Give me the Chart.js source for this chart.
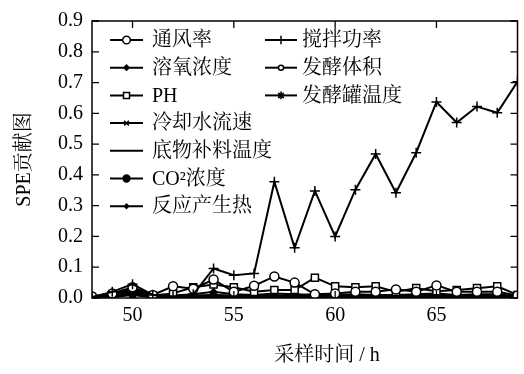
<!DOCTYPE html>
<html>
<head>
<meta charset="utf-8">
<script src="https://cdn.jsdelivr.net/npm/chart.js@4.4.0/dist/chart.umd.min.js"></script>
<style>
html, body { margin: 0; padding: 0; background: #fff; }
#wrap { width: 524px; height: 374px; }
</style>
</head>
<body>
<div id="wrap"><canvas id="speChart" width="524" height="374"></canvas></div>
<script>
// sampling time (h)
const hours = [48, 49, 50, 51, 52, 53, 54, 55, 56, 57, 58, 59, 60, 61, 62, 63, 64, 65, 66, 67, 68, 69];
const xTicks = [50, 55, 60, 65];
const yTicks = [0, 0.1, 0.2, 0.3, 0.4, 0.5, 0.6, 0.7, 0.8, 0.9];

// SPE contribution per variable
const ventRate   = [0.005, 0.015, 0.035, 0.010, 0.038, 0.030, 0.060, 0.020, 0.040, 0.070, 0.050, 0.012, 0.015, 0.020, 0.020, 0.028, 0.020, 0.041, 0.020, 0.020, 0.020, 0.008];
const dissolvedO2 = [0.002, 0.010, 0.025, 0.005, 0.008, 0.012, 0.020, 0.012, 0.010, 0.015, 0.012, 0.010, 0.010, 0.012, 0.010, 0.010, 0.012, 0.015, 0.010, 0.012, 0.012, 0.006];
const phValue    = [0.003, 0.012, 0.030, 0.008, 0.015, 0.035, 0.044, 0.035, 0.020, 0.026, 0.026, 0.066, 0.038, 0.035, 0.038, 0.020, 0.032, 0.022, 0.026, 0.032, 0.038, 0.010];
const coolFlow   = [0.002, 0.008, 0.020, 0.004, 0.006, 0.008, 0.010, 0.008, 0.006, 0.008, 0.008, 0.006, 0.006, 0.008, 0.006, 0.006, 0.008, 0.008, 0.006, 0.008, 0.006, 0.004];
const feedTemp   = [0.001, 0.006, 0.018, 0.004, 0.005, 0.006, 0.008, 0.006, 0.005, 0.006, 0.006, 0.005, 0.005, 0.006, 0.005, 0.005, 0.006, 0.006, 0.005, 0.006, 0.005, 0.003];
const co2Conc    = [0.006, 0.005, 0.015, 0.004, 0.004, 0.005, 0.005, 0.006, 0.006, 0.006, 0.008, 0.012, 0.010, 0.008, 0.007, 0.007, 0.008, 0.008, 0.007, 0.008, 0.007, 0.006];
const reactHeat  = [0.001, 0.004, 0.012, 0.003, 0.003, 0.004, 0.004, 0.004, 0.003, 0.004, 0.004, 0.004, 0.004, 0.004, 0.003, 0.003, 0.004, 0.004, 0.003, 0.004, 0.003, 0.002];
const stirPower  = [0.003, 0.020, 0.045, 0.010, 0.005, 0.012, 0.096, 0.074, 0.080, 0.378, 0.163, 0.348, 0.200, 0.352, 0.468, 0.342, 0.472, 0.637, 0.570, 0.622, 0.602, 0.703];
const fermVolume = [0.002, 0.006, 0.016, 0.004, 0.004, 0.005, 0.006, 0.005, 0.004, 0.005, 0.005, 0.004, 0.004, 0.005, 0.004, 0.004, 0.005, 0.005, 0.004, 0.005, 0.004, 0.003];
const tankTemp   = [0.001, 0.003, 0.010, 0.002, 0.002, 0.003, 0.003, 0.003, 0.002, 0.003, 0.003, 0.003, 0.003, 0.003, 0.002, 0.002, 0.003, 0.003, 0.002, 0.003, 0.002, 0.002];

const FONT = "'Liberation Serif', 'Noto Serif CJK SC', 'Noto Sans CJK SC', serif";
const X_TITLE = '采样时间 / h';

function series(label, values, style, radius, filled) {
    return {
        label: label,
        data: values.map((v, i) => ({ x: hours[i], y: v })),
        borderColor: '#000',
        backgroundColor: filled ? '#000' : '#fff',
        borderWidth: 2,
        pointStyle: style,
        pointRadius: radius,
        pointBorderWidth: 1.5,
        pointBorderColor: '#000',
        pointBackgroundColor: filled ? '#000' : '#fff',
        tension: 0
    };
}

const datasets = [
    series('搅拌功率', stirPower, 'cross', 5, false),
    series('通风率', ventRate, 'circle', 4.5, false),
    series('PH', phValue, 'rect', 5, false),
    series('溶氧浓度', dissolvedO2, 'rectRot', 3, true),
    series('冷却水流速', coolFlow, 'crossRot', 4, false),
    series('底物补料温度', feedTemp, false, 0, false),
    series('CO²浓度', co2Conc, 'circle', 4, true),
    series('反应产生热', reactHeat, 'rectRot', 2.5, true),
    series('发酵体积', fermVolume, 'circle', 3, false),
    series('发酵罐温度', tankTemp, 'star', 4.5, false)
];

// legend laid out in two columns, like the original figure
const legendColumns = [
    ['通风率', '溶氧浓度', 'PH', '冷却水流速', '底物补料温度', 'CO²浓度', '反应产生热'],
    ['搅拌功率', '发酵体积', '发酵罐温度']
];

const boxLegend = {
    id: 'boxLegend',
    afterDraw(chart) {
        const ctx = chart.ctx;
        const area = chart.chartArea;
        const xs = chart.scales.x;
        const ys = chart.scales.y;

        ctx.save();
        // frame
        ctx.strokeStyle = '#000';
        ctx.lineWidth = 1.5;
        ctx.strokeRect(area.left, area.top, area.right - area.left, area.bottom - area.top);

        // inward ticks on all four sides
        ctx.lineWidth = 1.3;
        ctx.beginPath();
        yTicks.forEach(v => {
            const py = ys.getPixelForValue(v);
            ctx.moveTo(area.left, py); ctx.lineTo(area.left + 7, py);
            ctx.moveTo(area.right, py); ctx.lineTo(area.right - 7, py);
        });
        xTicks.forEach(v => {
            const px = xs.getPixelForValue(v);
            ctx.moveTo(px, area.top); ctx.lineTo(px, area.top + 7);
            ctx.moveTo(px, area.bottom); ctx.lineTo(px, area.bottom - 7);
        });
        ctx.stroke();

        // legend
        const colX = [area.left + 18, area.left + 173];
        const lineLen = [33, 32];
        const textGap = [42, 37];
        const rowH = 27.7;
        ctx.font = '20px ' + FONT;
        ctx.textBaseline = 'middle';
        ctx.textAlign = 'left';
        legendColumns.forEach((names, c) => {
            names.forEach((name, r) => {
                const ds = datasets.find(d => d.label === name);
                const x0 = colX[c];
                const y0 = area.top + 19 + r * rowH;
                ctx.strokeStyle = '#000';
                ctx.lineWidth = 2;
                ctx.beginPath();
                ctx.moveTo(x0, y0);
                ctx.lineTo(x0 + lineLen[c], y0);
                ctx.stroke();
                if (ds.pointStyle && ds.pointRadius > 0) {
                    ctx.fillStyle = ds.pointBackgroundColor;
                    ctx.strokeStyle = '#000';
                    ctx.lineWidth = ds.pointBorderWidth;
                    Chart.helpers.drawPoint(ctx, {
                        pointStyle: ds.pointStyle,
                        radius: ds.pointRadius * 0.85,
                        rotation: 0,
                        borderWidth: ds.pointBorderWidth
                    }, x0 + lineLen[c] / 2, y0);
                }
                ctx.fillStyle = '#000';
                ctx.fillText(name, x0 + textGap[c], y0 + 1);
            });
        });

        // x axis title (sits a little right of centre in the original)
        ctx.textAlign = 'center';
        ctx.fillText(X_TITLE, 327, 356);
        ctx.restore();
    }
};

new Chart(document.getElementById('speChart').getContext('2d'), {
    type: 'line',
    data: { datasets: datasets },
    options: {
        responsive: false,
        animation: false,
        layout: { padding: { left: 0, right: 3, top: 14, bottom: 0 } },
        plugins: {
            legend: { display: false },
            tooltip: { enabled: false }
        },
        scales: {
            x: {
                type: 'linear',
                min: 48,
                max: 69,
                afterBuildTicks: s => { s.ticks = xTicks.map(v => ({ value: v })); },
                afterFit: s => { s.height = 76; },
                grid: { display: false, drawTicks: false },
                border: { display: false },
                ticks: {
                    color: '#000',
                    padding: 6,
                    font: { family: FONT, size: 20 }
                }
            },
            y: {
                min: 0,
                max: 0.9,
                afterBuildTicks: s => { s.ticks = yTicks.map(v => ({ value: v })); },
                afterFit: s => { s.width = 92; },
                grid: { display: false, drawTicks: false },
                border: { display: false },
                ticks: {
                    color: '#000',
                    padding: 9,
                    font: { family: FONT, size: 20 },
                    callback: v => v.toFixed(1)
                },
                title: {
                    display: true,
                    text: 'SPE贡献图',
                    color: '#000',
                    font: { family: FONT, size: 20 },
                    padding: { top: 13, bottom: 0 }
                }
            }
        }
    },
    plugins: [boxLegend]
});
</script>
</body>
</html>
